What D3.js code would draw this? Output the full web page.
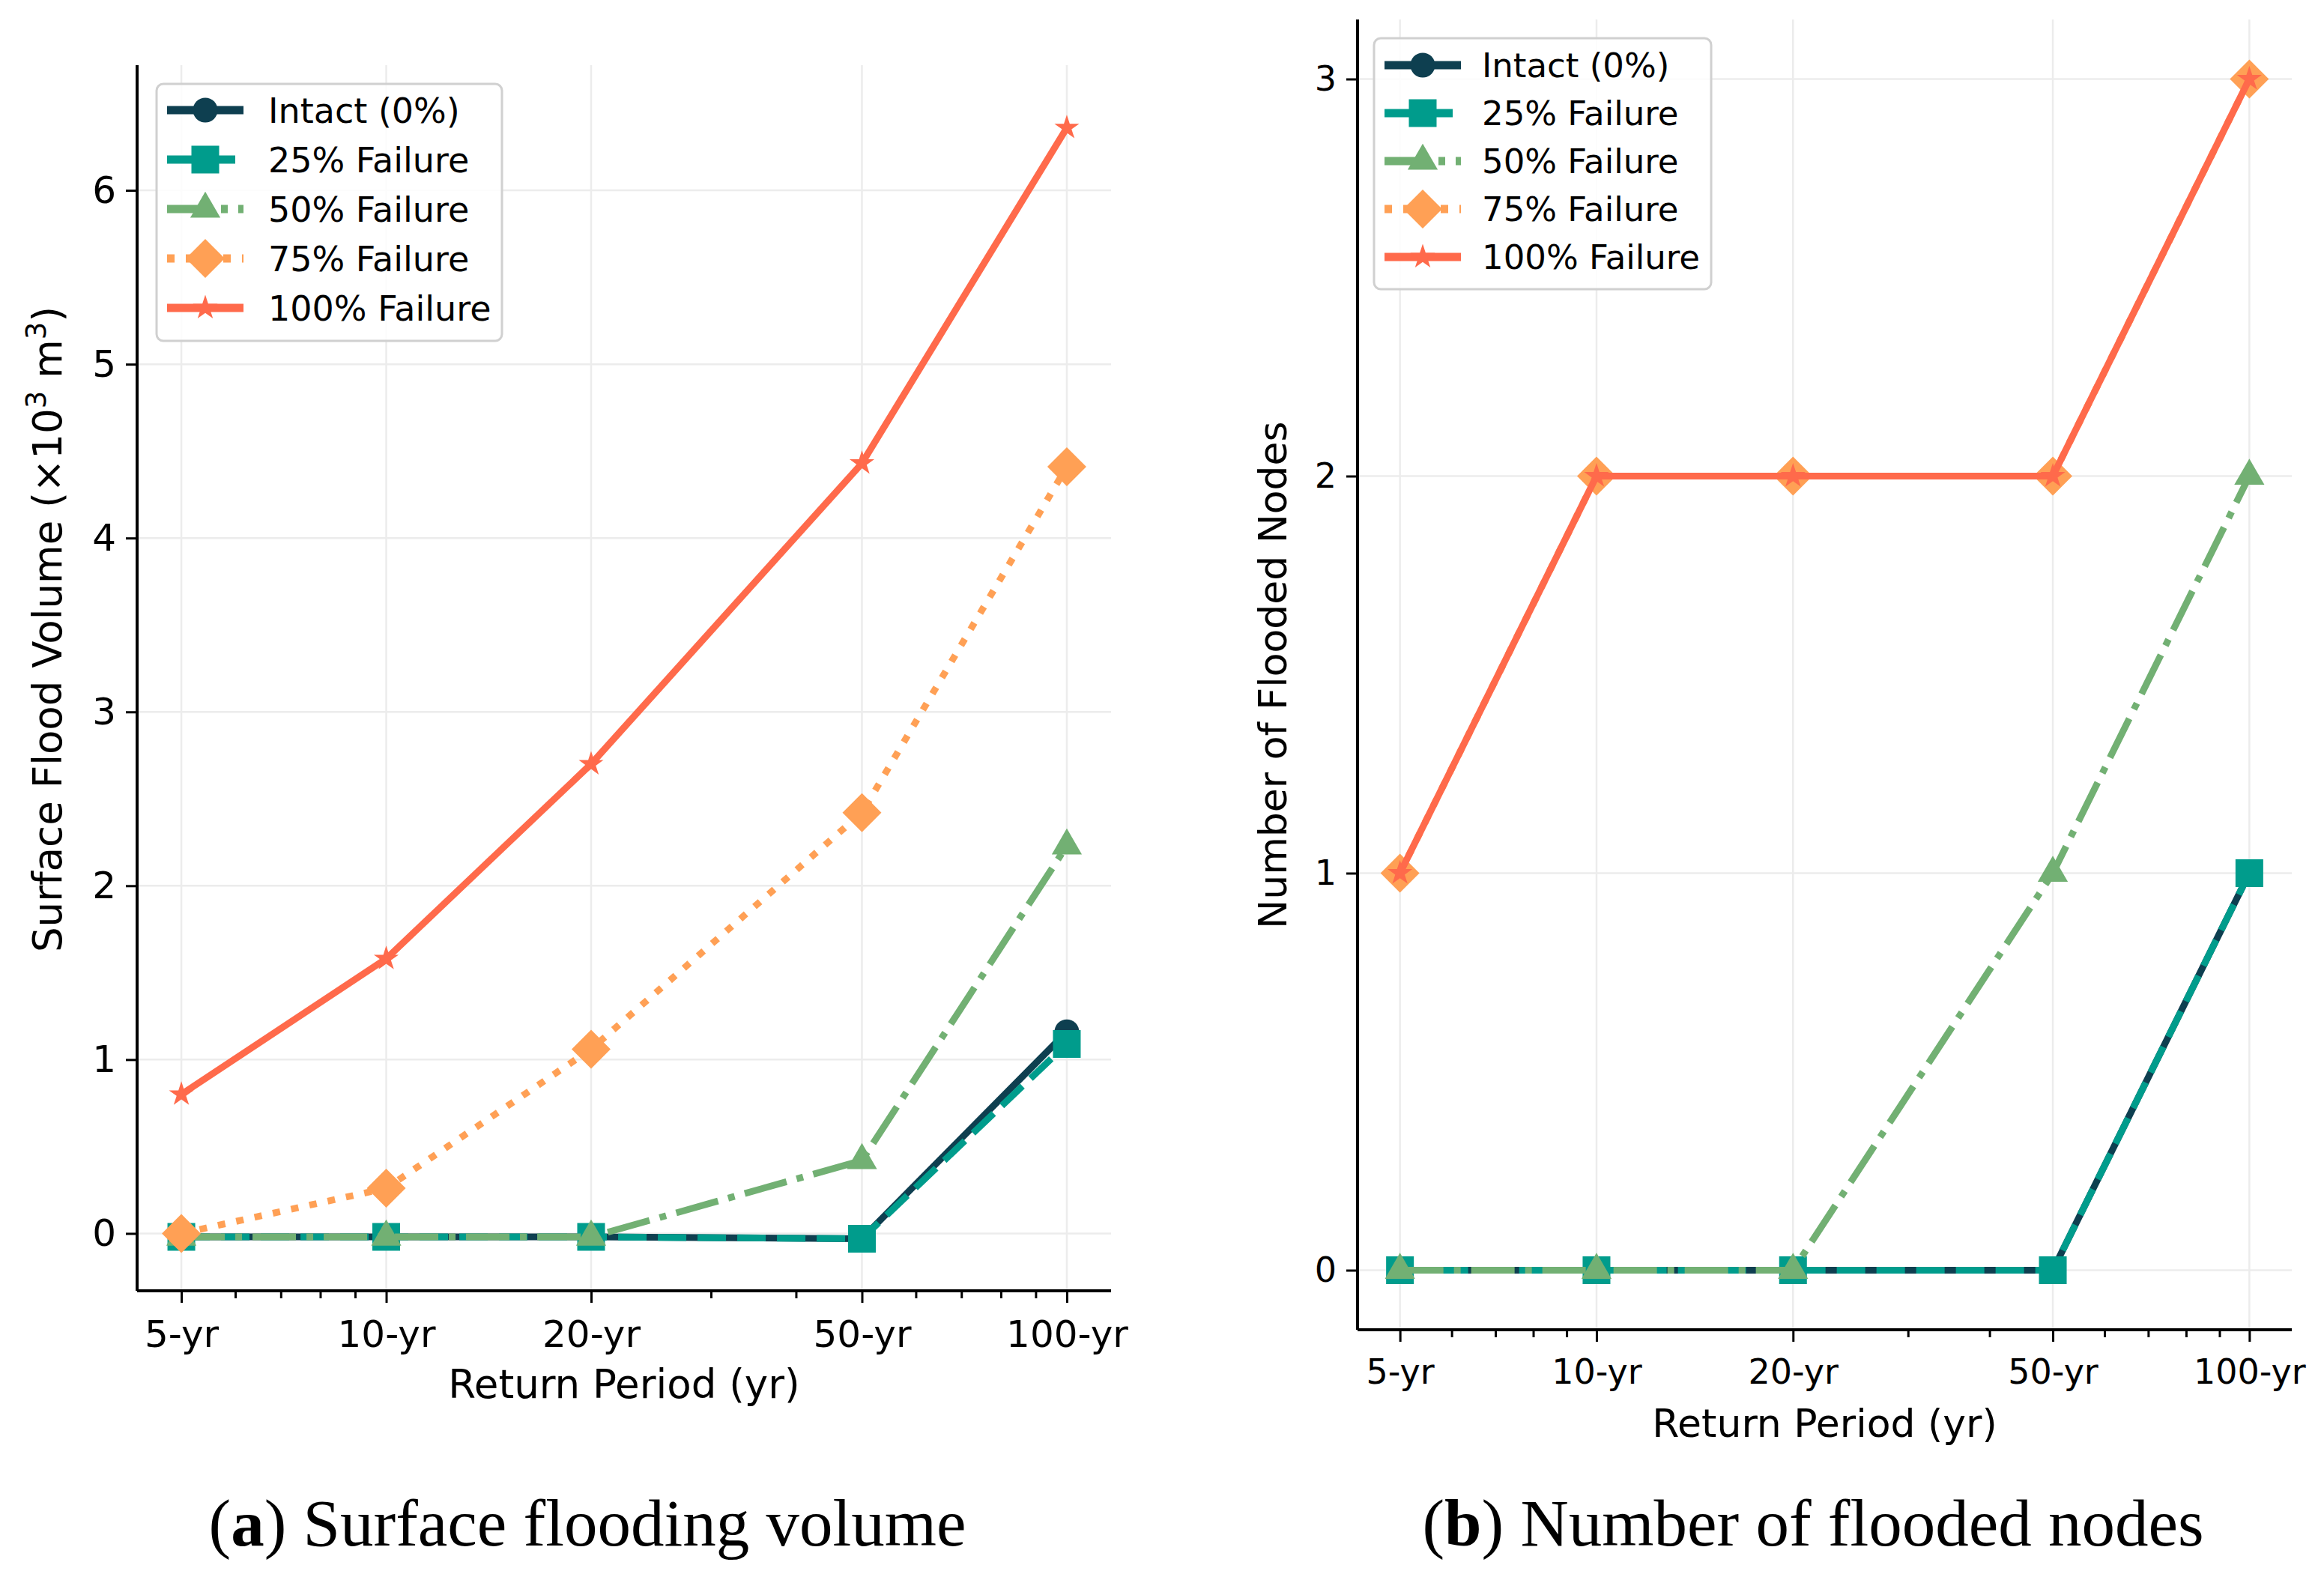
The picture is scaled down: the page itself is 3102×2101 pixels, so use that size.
<!DOCTYPE html>
<html>
<head>
<meta charset="utf-8">
<script src="https://cdn.jsdelivr.net/npm/d3@7"></script>
<style>
  body { margin: 0; background: #fff; }
  svg { display: block; font-family: "DejaVu Sans", sans-serif; }
  .grid line { stroke: #ececec; stroke-width: 2.5; }
  .axis path, .axis line { stroke: #000; }
  .axis path { stroke-width: 4; }
  .axis line { stroke-width: 3; }
  .axis text { fill: #000; font-family: "DejaVu Sans", sans-serif; }
  .caption { font-family: "Liberation Serif", serif; font-size: 89px; fill: #000; }
</style>
</head>
<body>
<div id="chart"></div>
<script>
// return periods on the log x axis
const periods = [5, 10, 20, 50, 100];
const periodLabels = ["5-yr", "10-yr", "20-yr", "50-yr", "100-yr"];
const minorTicks = [6, 7, 8, 9, 30, 40, 60, 70, 80, 90];
const seriesNames = ["Intact (0%)", "25% Failure", "50% Failure", "75% Failure", "100% Failure"];

// (a) surface flood volume, x10^3 m3
const volIntact = [-0.02, -0.02, -0.02, -0.03, 1.16];
const vol25 = [-0.02, -0.02, -0.02, -0.03, 1.09];
const vol50 = [-0.02, -0.02, -0.02, 0.42, 2.23];
const vol75 = [0.00, 0.26, 1.06, 2.42, 4.41];
const vol100 = [0.80, 1.58, 2.70, 4.43, 6.36];
const volTicks = [0, 1, 2, 3, 4, 5, 6];

// (b) number of flooded nodes
const nodesIntact = [0, 0, 0, 0, 1];
const nodes25 = [0, 0, 0, 0, 1];
const nodes50 = [0, 0, 0, 1, 2];
const nodes75 = [1, 2, 2, 2, 3];
const nodes100 = [1, 2, 2, 2, 3];
const nodeTicks = [0, 1, 2, 3];

// styles
const colors = ["#0e3f50", "#009c8c", "#72b073", "#ffa055", "#ff6a4b"];
const dashes = [null, "38,15", "58,14,9,14", "10,15", null];
const symbols = [
  {type: d3.symbolCircle, size: 860, rot: 0},
  {type: d3.symbolSquare, size: 1370, rot: 0},
  {type: d3.symbolTriangle, size: 700, rot: 0},
  {type: d3.symbolSquare, size: 1350, rot: 45},
  {type: d3.symbolStar, size: 340, rot: 0}
];

const svg = d3.select("#chart").append("svg")
  .attr("width", 3102)
  .attr("height", 2101);

function drawPanel(p) {
  const x = d3.scaleLog()
    .domain([5 / Math.pow(10, 0.065), 100 * Math.pow(10, 0.065)])
    .range([p.x0, p.x1]);
  const y = d3.scaleLinear()
    .domain(p.yDomain)
    .range([p.y1, p.y0]);

  // grid
  const grid = svg.append("g").attr("class", "grid");
  grid.selectAll(".gx").data(periods).join("line")
    .attr("x1", d => x(d)).attr("x2", d => x(d))
    .attr("y1", p.y0).attr("y2", p.y1);
  grid.selectAll(".gy").data(p.yTicks).join("line")
    .attr("x1", p.x0).attr("x2", p.x1)
    .attr("y1", d => y(d)).attr("y2", d => y(d));

  // axes
  svg.append("g")
    .attr("class", "axis")
    .attr("transform", `translate(0, ${p.y1})`)
    .call(d3.axisBottom(x).tickValues(minorTicks).tickFormat("").tickSize(10).tickSizeOuter(0))
    .call(g => g.select(".domain").remove());
  svg.append("g")
    .attr("class", "axis")
    .attr("transform", `translate(0, ${p.y1})`)
    .call(d3.axisBottom(x).tickValues(periods).tickFormat((d, i) => periodLabels[i])
      .tickSize(16).tickSizeOuter(0).tickPadding(23))
    .call(g => g.select(".domain").attr("d", `M${p.x0},0H${p.x1}`))
    .selectAll("text").style("font-size", p.tickFont + "px");
  svg.append("g")
    .attr("class", "axis")
    .attr("transform", `translate(${p.x0}, 0)`)
    .call(d3.axisLeft(y).tickValues(p.yTicks).tickFormat(d3.format("d"))
      .tickSize(15).tickSizeOuter(0).tickPadding(13))
    .call(g => g.select(".domain").attr("d", `M0,${p.y0}V${p.y1}`))
    .selectAll("text").style("font-size", p.tickFont + "px");

  // lines and markers
  const line = d3.line().x(d => x(d.p)).y(d => y(d.v));
  p.series.forEach((vals, i) => {
    const pts = vals.map((v, j) => ({p: periods[j], v: v}));
    svg.append("path")
      .datum(pts)
      .attr("d", line)
      .attr("fill", "none")
      .attr("stroke", colors[i])
      .attr("stroke-width", 9)
      .attr("stroke-linejoin", "round")
      .attr("stroke-dasharray", dashes[i]);
    svg.selectAll(".mk" + p.id + i)
      .data(pts)
      .join("path")
      .attr("class", "mk" + p.id + i)
      .attr("d", d3.symbol(symbols[i].type, symbols[i].size))
      .attr("transform", d => `translate(${x(d.p)}, ${y(d.v)}) rotate(${symbols[i].rot})`)
      .attr("fill", colors[i]);
  });

  // axis labels
  svg.append("text")
    .attr("x", (p.x0 + p.x1) / 2)
    .attr("y", p.y1 + 143)
    .attr("text-anchor", "middle")
    .style("font-size", p.labelFont + "px")
    .text("Return Period (yr)");

  const yl = svg.append("text")
    .attr("transform", `translate(${p.yLabelX}, ${p.yLabelY}) rotate(-90)`)
    .attr("text-anchor", "middle")
    .style("font-size", p.labelFont + "px");
  p.yLabel.forEach(part => {
    yl.append("tspan")
      .attr("baseline-shift", part.sup ? "super" : null)
      .style("font-size", part.sup ? (p.labelFont * 0.7) + "px" : null)
      .text(part.t);
  });

  // legend
  const lg = svg.append("g").attr("transform", `translate(${p.legX}, ${p.legY})`);
  lg.append("rect")
    .attr("width", p.legW).attr("height", p.legH)
    .attr("rx", 9)
    .attr("fill", "#fff").attr("fill-opacity", 0.85)
    .attr("stroke", "#d0d0d0").attr("stroke-width", 3);
  seriesNames.forEach((name, i) => {
    const cy = p.legRow0 + i * p.legStep;
    lg.append("line")
      .attr("x1", 14).attr("x2", 116)
      .attr("y1", cy).attr("y2", cy)
      .attr("stroke", colors[i])
      .attr("stroke-width", 11)
      .attr("stroke-dasharray", dashes[i]);
    lg.append("path")
      .attr("d", d3.symbol(symbols[i].type, symbols[i].size)())
      .attr("transform", `translate(65, ${cy}) rotate(${symbols[i].rot})`)
      .attr("fill", colors[i]);
    lg.append("text")
      .attr("x", p.legTextX)
      .attr("y", cy)
      .attr("dy", "0.36em")
      .style("font-size", p.legFont + "px")
      .text(name);
  });

  // caption
  const cap = svg.append("text")
    .attr("class", "caption")
    .attr("x", p.capX)
    .attr("y", 2063)
    .attr("text-anchor", "middle");
  cap.append("tspan").text("(");
  cap.append("tspan").attr("font-weight", "bold").text(p.capLetter);
  cap.append("tspan").text(") " + p.capText);
}

drawPanel({
  id: "a",
  x0: 183, x1: 1483, y0: 87, y1: 1723,
  yDomain: [-0.33, 6.72],
  yTicks: volTicks,
  series: [volIntact, vol25, vol50, vol75, vol100],
  tickFont: 50, labelFont: 53, legFont: 46,
  yLabelX: 82, yLabelY: 840,
  yLabel: [{t: "Surface Flood Volume (×10"}, {t: "3", sup: true}, {t: " m"}, {t: "3", sup: true}, {t: ")"}],
  legX: 209, legY: 112, legW: 461, legH: 343, legRow0: 35, legStep: 66, legTextX: 149,
  capX: 784, capLetter: "a", capText: "Surface flooding volume"
});

drawPanel({
  id: "b",
  x0: 1812, x1: 3059, y0: 26, y1: 1775,
  yDomain: [-0.15, 3.15],
  yTicks: nodeTicks,
  series: [nodesIntact, nodes25, nodes50, nodes75, nodes100],
  tickFont: 46, labelFont: 52, legFont: 45,
  yLabelX: 1717, yLabelY: 901,
  yLabel: [{t: "Number of Flooded Nodes"}],
  legX: 1834, legY: 51, legW: 450, legH: 335, legRow0: 36, legStep: 64, legTextX: 144,
  capX: 2420, capLetter: "b", capText: "Number of flooded nodes"
});
</script>
</body>
</html>
